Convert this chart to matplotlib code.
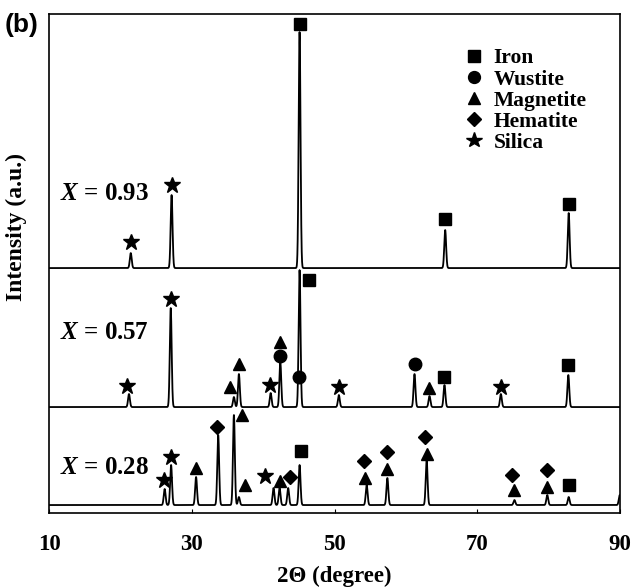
import numpy as np
import matplotlib
matplotlib.use("Agg")
import matplotlib.pyplot as plt
from matplotlib.lines import Line2D

plt.rcParams['font.family'] = 'Liberation Serif'
plt.rcParams['font.weight'] = 'bold'
plt.rcParams['mathtext.fontset'] = 'custom'
plt.rcParams['mathtext.it'] = 'Liberation Serif:italic:bold'
plt.rcParams['mathtext.rm'] = 'Liberation Serif:bold'

# peak positions (2theta) and heights (a.u.)
top_pos = [21.45, 27.17, 45.1, 65.5, 82.8]
top_h = [15, 73, 236, 38, 55]
mid_pos = [21.2, 27.05, 35.9, 36.6, 41.05, 42.4, 45.1, 50.6, 61.2, 63.3, 65.4, 73.3, 82.75]
mid_h = [13, 99, 10, 33, 14, 45, 137, 12, 33, 11, 22, 13, 32]
bot_pos = [26.2, 27.1, 30.6, 33.7, 35.9, 36.6, 41.45, 42.3, 43.5, 45.1, 54.5, 57.4,
           62.9, 75.2, 79.8, 82.8, 89.95]
bot_h = [16, 40, 28, 70, 90, 8, 17, 17, 17, 40, 20, 27, 45, 5, 10, 8, 10]

# phase markers: phase, 2theta, height above baseline
top_mk_phase = ['Silica', 'Silica', 'Iron', 'Iron', 'Iron']
top_mk_x = [21.45, 27.17, 45.2, 65.5, 82.8]
top_mk_h = [26, 83, 244, 49, 64]
mid_mk_phase = ['Silica', 'Silica', 'Magnetite', 'Magnetite', 'Silica', 'Magnetite', 'Wustite',
                'Iron', 'Wustite', 'Silica', 'Wustite', 'Magnetite', 'Iron', 'Silica', 'Iron']
mid_mk_x = [20.94, 27.05, 35.4, 36.6, 40.9, 42.3, 42.4, 46.4, 45.0, 50.6, 61.2, 63.3, 65.4, 73.3, 82.75]
mid_mk_h = [21, 108, 20, 43, 22, 65, 51, 127, 30, 20, 43, 19, 30, 20, 42]
bot_mk_phase = ['Silica', 'Silica', 'Magnetite', 'Hematite', 'Magnetite', 'Magnetite', 'Silica',
                'Magnetite', 'Hematite', 'Iron', 'Hematite', 'Magnetite', 'Hematite', 'Magnetite',
                'Hematite', 'Magnetite', 'Hematite', 'Magnetite', 'Hematite', 'Magnetite', 'Iron']
bot_mk_x = [26.15, 27.1, 30.6, 33.6, 37.1, 37.4, 40.3, 42.3, 43.8, 45.3, 54.1, 54.3, 57.4, 57.4,
            62.7, 62.9, 74.9, 75.2, 79.7, 79.8, 82.9]
bot_mk_h = [25, 48, 37, 78, 90, 20, 29, 24, 28, 54, 44, 27, 53, 36, 68, 51, 30, 15, 35, 18, 20]

labels = ['$X$ = 0.93', '$X$ = 0.57', '$X$ = 0.28']
label_y = [320, 181, 46]
baselines = [245, 106, 8]

phases = ['Iron', 'Wustite', 'Magnetite', 'Hematite', 'Silica']
marker_of = {'Iron': 's', 'Wustite': 'o', 'Magnetite': '^', 'Hematite': 'D', 'Silica': '*'}
size_of = {'Iron': 8.5, 'Wustite': 9, 'Magnetite': 8.5, 'Hematite': 7.5, 'Silica': 12}


def pattern(x, pos, h, sigma=0.13):
    y = np.zeros_like(x)
    for p, a in zip(pos, h):
        y += a * np.exp(-0.5 * ((x - p) / sigma) ** 2)
    return y


fig = plt.figure(figsize=(6.31, 5.87), dpi=100)
ax = fig.add_axes([0.0777, 0.126, 0.905, 0.85])

tt = np.linspace(10, 90, 8001)
panels = [
    (top_pos, top_h, top_mk_phase, top_mk_x, top_mk_h),
    (mid_pos, mid_h, mid_mk_phase, mid_mk_x, mid_mk_h),
    (bot_pos, bot_h, bot_mk_phase, bot_mk_x, bot_mk_h),
]
for (pos, h, mph, mx, mh), base, lab, ly in zip(panels, baselines, labels, label_y):
    ax.plot(tt, base + pattern(tt, pos, h), color='black', lw=1.3)
    for ph, x, y in zip(mph, mx, mh):
        ax.plot(x, base + y, marker=marker_of[ph], ms=size_of[ph], color='black', ls='none')
    ax.text(11.6, ly, lab, fontsize=18, va='center', ha='left')

ax.set_xlim(10, 90)
ax.set_ylim(0, 499)
ax.set_xticks([10, 30, 50, 70, 90])
ax.set_yticks([])
ax.tick_params(axis='x', direction='in', length=3, labelsize=16.5, pad=15)
for lbl in ax.get_xticklabels():
    lbl.set_fontweight('bold')
for s in ax.spines.values():
    s.set_linewidth(1.2)
ax.set_xlabel('2Θ (degree)', fontsize=16.5, fontweight='bold')
ax.xaxis.set_label_coords(0.5, -0.106)
ax.set_ylabel('Intensity (a.u.)', fontsize=17, fontweight='bold', va='center')
ax.yaxis.set_label_coords(-0.0578, 0.573)

handles = [Line2D([], [], marker=marker_of[p], ms=size_of[p] * 0.95, color='black', ls='none')
           for p in phases]
ax.legend(handles, phases, loc='upper left', bbox_to_anchor=(0.720, 0.936),
          bbox_transform=fig.transFigure, frameon=False,
          handlelength=0.8, handletextpad=0.53, labelspacing=0.05, borderpad=0,
          prop={'weight': 'bold', 'size': 15.5})

fig.text(0.008, 0.957, '(b)', fontsize=19, fontweight='bold', family='Liberation Sans',
         va='center', ha='left')

fig.savefig('out.png', dpi=100)
